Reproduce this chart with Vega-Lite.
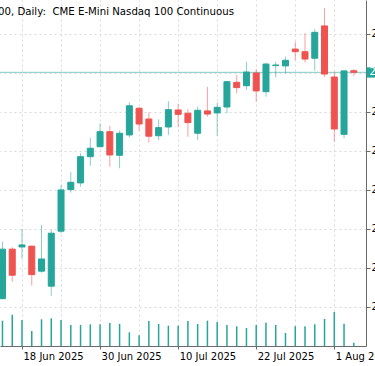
{
  "$schema": "https://vega.github.io/schema/vega-lite/v6.json",
  "width": 366,
  "height": 346,
  "padding": {"left": 0, "top": 0, "right": 9, "bottom": 20},
  "autosize": "none",
  "background": "white",
  "config": {"view": {"stroke": null}, "font": "DejaVu Sans"},
  "title": {"text": "00, Daily:\u00a0 CME E-Mini Nasdaq 100 Continuous", "anchor": "start", "orient": "top", "frame": "group", "offset": -25, "baseline": "alphabetic", "dx": -2, "fontSize": 10.2, "fontWeight": "normal", "font": "DejaVu Sans", "color": "#000000"},
  "datasets": {
    "bars": [
      {"i": 0, "d": "2025-06-16", "o": 21803, "h": 22168, "l": 21800, "c": 22120, "v": 253000},
      {"i": 1, "d": "2025-06-17", "o": 22120, "h": 22132, "l": 21912, "c": 21953, "v": 313000},
      {"i": 2, "d": "2025-06-18", "o": 22134, "h": 22249, "l": 22059, "c": 22147, "v": 260000},
      {"i": 3, "d": "2025-06-19", "o": 22139, "h": 22143, "l": 21887, "c": 21957, "v": 150000},
      {"i": 4, "d": "2025-06-20", "o": 21979, "h": 22275, "l": 21970, "c": 22057, "v": 267000},
      {"i": 5, "d": "2025-06-23", "o": 21883, "h": 22243, "l": 21821, "c": 22222, "v": 277000},
      {"i": 6, "d": "2025-06-24", "o": 22235, "h": 22531, "l": 22222, "c": 22499, "v": 260000},
      {"i": 7, "d": "2025-06-25", "o": 22501, "h": 22614, "l": 22482, "c": 22548, "v": 210000},
      {"i": 8, "d": "2025-06-26", "o": 22544, "h": 22734, "l": 22520, "c": 22712, "v": 210000},
      {"i": 9, "d": "2025-06-27", "o": 22712, "h": 22832, "l": 22653, "c": 22766, "v": 217000},
      {"i": 10, "d": "2025-06-30", "o": 22776, "h": 22926, "l": 22772, "c": 22872, "v": 217000},
      {"i": 11, "d": "2025-07-01", "o": 22872, "h": 22909, "l": 22648, "c": 22723, "v": 230000},
      {"i": 12, "d": "2025-07-02", "o": 22721, "h": 22878, "l": 22638, "c": 22862, "v": 220000},
      {"i": 13, "d": "2025-07-03", "o": 22851, "h": 23060, "l": 22834, "c": 23038, "v": 137000},
      {"i": 14, "d": "2025-07-04", "o": 23022, "h": 23028, "l": 22878, "c": 22921, "v": 107000},
      {"i": 15, "d": "2025-07-07", "o": 22953, "h": 22996, "l": 22802, "c": 22843, "v": 250000},
      {"i": 16, "d": "2025-07-08", "o": 22846, "h": 22951, "l": 22819, "c": 22898, "v": 220000},
      {"i": 17, "d": "2025-07-09", "o": 22902, "h": 23067, "l": 22851, "c": 23013, "v": 203000},
      {"i": 18, "d": "2025-07-10", "o": 23011, "h": 23051, "l": 22900, "c": 22983, "v": 203000},
      {"i": 19, "d": "2025-07-11", "o": 22990, "h": 23017, "l": 22840, "c": 22930, "v": 250000},
      {"i": 20, "d": "2025-07-14", "o": 22862, "h": 23032, "l": 22819, "c": 23009, "v": 220000},
      {"i": 21, "d": "2025-07-15", "o": 23005, "h": 23158, "l": 22968, "c": 22985, "v": 253000},
      {"i": 22, "d": "2025-07-16", "o": 22992, "h": 23058, "l": 22845, "c": 23028, "v": 240000},
      {"i": 23, "d": "2025-07-17", "o": 23030, "h": 23198, "l": 22990, "c": 23192, "v": 210000},
      {"i": 24, "d": "2025-07-18", "o": 23188, "h": 23235, "l": 23118, "c": 23154, "v": 197000},
      {"i": 25, "d": "2025-07-21", "o": 23166, "h": 23320, "l": 23139, "c": 23254, "v": 180000},
      {"i": 26, "d": "2025-07-22", "o": 23248, "h": 23271, "l": 23064, "c": 23133, "v": 210000},
      {"i": 27, "d": "2025-07-23", "o": 23128, "h": 23314, "l": 23096, "c": 23305, "v": 233000},
      {"i": 28, "d": "2025-07-24", "o": 23295, "h": 23320, "l": 23220, "c": 23299, "v": 210000},
      {"i": 29, "d": "2025-07-25", "o": 23293, "h": 23352, "l": 23246, "c": 23329, "v": 130000},
      {"i": 30, "d": "2025-07-28", "o": 23401, "h": 23448, "l": 23331, "c": 23384, "v": 197000},
      {"i": 31, "d": "2025-07-29", "o": 23384, "h": 23502, "l": 23314, "c": 23337, "v": 197000},
      {"i": 32, "d": "2025-07-30", "o": 23342, "h": 23529, "l": 23262, "c": 23508, "v": 217000},
      {"i": 33, "d": "2025-07-31", "o": 23549, "h": 23662, "l": 23224, "c": 23241, "v": 270000},
      {"i": 34, "d": "2025-08-01", "o": 23222, "h": 23256, "l": 22808, "c": 22889, "v": 340000},
      {"i": 35, "d": "2025-08-04", "o": 22855, "h": 23261, "l": 22830, "c": 23261, "v": 223000},
      {"i": 36, "d": "2025-08-05", "o": 23262, "h": 23273, "l": 23229, "c": 23252, "v": 33000}
    ]
  },
  "data": {"name": "bars"},
  "layer": [
    {
      "mark": {"type": "bar", "size": 1.5, "color": "#26a69a"},
      "encoding": {
        "x": {"field": "i", "type": "quantitative", "scale": {"domain": [-0.254, 37.25], "nice": false, "zero": false, "padding": 0},
          "axis": {"orient": "top", "values": [2, 6, 10, 14, 18, 22, 26, 30, 34], "grid": true, "gridColor": "#d9d9d9", "gridDash": [2, 3], "labels": false, "ticks": false, "domain": false, "title": null}},
        "y": {"field": "v", "type": "quantitative", "scale": {"domain": [0, 3460000], "nice": false}, "axis": null}
      }
    },
    {
      "layer": [
        {
          "transform": [{"filter": "datum.i == 36"}],
          "mark": {"type": "rule", "color": "#80cbc4", "strokeWidth": 1},
          "encoding": {
            "y": {"field": "c", "type": "quantitative", "scale": {"domain": [21500, 23715], "nice": false, "zero": false},
              "axis": {"orient": "right", "values": [21750, 22000, 22250, 22500, 22750, 23000, 23250, 23500], "format": ".2f", "grid": true, "gridColor": "#d9d9d9", "gridDash": [2, 3], "tickSize": 4, "tickColor": "#6b6b6b", "domainColor": "#6b6b6b", "labelPadding": 1, "labelFontSize": 10, "labelFont": "DejaVu Sans", "labelColor": "#000000", "title": null}}
          }
        },
        {
          "mark": {"type": "rule", "strokeWidth": 1, "opacity": 0.55},
          "encoding": {
            "x": {"field": "i", "type": "quantitative", "scale": {"domain": [-0.254, 37.25], "nice": false, "zero": false, "padding": 0},
              "axis": {"orient": "bottom", "values": [2, 10, 18, 26, 34], "labelExpr": "datum.value == 2 ? '18 Jun 2025' : datum.value == 10 ? '30 Jun 2025' : datum.value == 18 ? '10 Jul 2025' : datum.value == 26 ? '22 Jul 2025' : '1 Aug 2025'", "grid": false, "tickSize": 3, "tickColor": "#6b6b6b", "domainColor": "#6b6b6b", "labelAlign": "left", "labelOffset": 1, "labelPadding": 2, "labelFontSize": 10, "labelFont": "DejaVu Sans", "labelColor": "#000000", "labelFlush": false, "labelOverlap": false, "title": null}},
            "y": {"field": "l", "type": "quantitative", "scale": {"domain": [21500, 23715], "nice": false, "zero": false},
              "axis": {"orient": "right", "values": [21750, 22000, 22250, 22500, 22750, 23000, 23250, 23500], "format": ".2f", "grid": true, "gridColor": "#d9d9d9", "gridDash": [2, 3], "tickSize": 4, "tickColor": "#6b6b6b", "domainColor": "#6b6b6b", "labelPadding": 1, "labelFontSize": 10, "labelFont": "DejaVu Sans", "labelColor": "#000000", "title": null}},
            "y2": {"field": "h"},
            "color": {"condition": {"test": "datum.c >= datum.o", "value": "#26a69a"}, "value": "#ef5350"}
          }
        },
        {
          "mark": {"type": "bar", "size": 6, "strokeWidth": 1},
          "encoding": {
            "x": {"field": "i", "type": "quantitative", "scale": {"domain": [-0.254, 37.25], "nice": false, "zero": false, "padding": 0},
              "axis": {"orient": "bottom", "values": [2, 10, 18, 26, 34], "labelExpr": "datum.value == 2 ? '18 Jun 2025' : datum.value == 10 ? '30 Jun 2025' : datum.value == 18 ? '10 Jul 2025' : datum.value == 26 ? '22 Jul 2025' : '1 Aug 2025'", "grid": false, "tickSize": 3, "tickColor": "#6b6b6b", "domainColor": "#6b6b6b", "labelAlign": "left", "labelOffset": 1, "labelPadding": 2, "labelFontSize": 10, "labelFont": "DejaVu Sans", "labelColor": "#000000", "labelFlush": false, "labelOverlap": false, "title": null}},
            "y": {"field": "o", "type": "quantitative", "scale": {"domain": [21500, 23715], "nice": false, "zero": false},
              "axis": {"orient": "right", "values": [21750, 22000, 22250, 22500, 22750, 23000, 23250, 23500], "format": ".2f", "grid": true, "gridColor": "#d9d9d9", "gridDash": [2, 3], "tickSize": 4, "tickColor": "#6b6b6b", "domainColor": "#6b6b6b", "labelPadding": 1, "labelFontSize": 10, "labelFont": "DejaVu Sans", "labelColor": "#000000", "title": null}},
            "y2": {"field": "c"},
            "fill": {"condition": {"test": "datum.c >= datum.o", "value": "#26a69a"}, "value": "#ef5350"},
            "stroke": {"condition": {"test": "datum.c >= datum.o", "value": "#26a69a"}, "value": "#ef5350"}
          }
        },
        {
          "transform": [{"filter": "datum.i == 36"}],
          "mark": {"type": "rect", "color": "#26a69a"},
          "encoding": {
            "x": {"datum": 37.31, "type": "quantitative", "scale": {"domain": [-0.254, 37.25], "nice": false, "zero": false, "padding": 0}},
            "x2": {"datum": 38.6},
            "y": {"datum": 23284, "type": "quantitative", "scale": {"domain": [21500, 23715], "nice": false, "zero": false}},
            "y2": {"datum": 23218}
          }
        },
        {
          "transform": [{"filter": "datum.i == 36"}],
          "mark": {"type": "text", "color": "#ffffff", "align": "left", "baseline": "middle", "font": "DejaVu Sans", "fontSize": 10},
          "encoding": {
            "x": {"datum": 37.61, "type": "quantitative", "scale": {"domain": [-0.254, 37.25], "nice": false, "zero": false, "padding": 0}},
            "y": {"field": "c", "type": "quantitative", "scale": {"domain": [21500, 23715], "nice": false, "zero": false}},
            "text": {"field": "c", "format": ".2f"}
          }
        }
      ]
    }
  ],
  "resolve": {"scale": {"y": "independent"}, "axis": {"x": "independent", "y": "independent"}}
}
